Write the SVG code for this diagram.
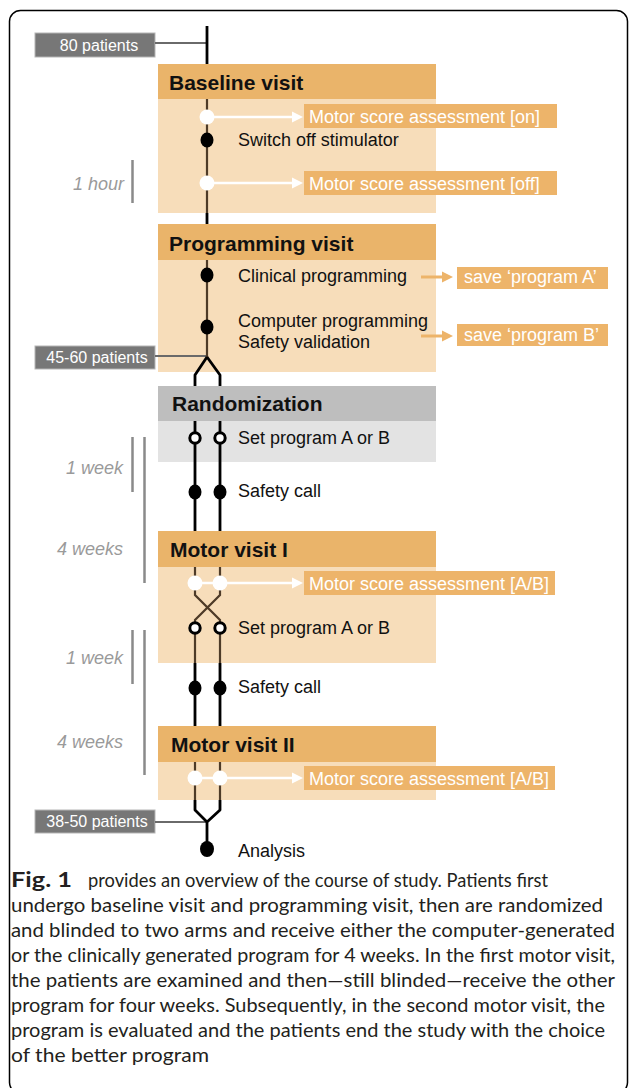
<svg xmlns="http://www.w3.org/2000/svg" width="630" height="1088" viewBox="0 0 630 1088">
<style>
.hdr{fill:#EAB46A}
.body{fill:#F7DDBA}
.rhdr{fill:#BEBEBE}
.rbody{fill:#E3E3E3}
.lbl{fill:#EDB46A}
.gbox{fill:#777777;stroke:#B5B5B5;stroke-width:1}
.htxt{font-family:"Liberation Sans",Arial,sans-serif;font-weight:bold;font-size:21px;fill:#111}
.txt{font-family:"Liberation Sans",Arial,sans-serif;font-size:18px;fill:#111}
.wtxt{font-family:"Liberation Sans",Arial,sans-serif;font-size:18px;fill:#fff}
.gtxt{font-family:"Liberation Sans",Arial,sans-serif;font-size:16px;fill:#fff;text-anchor:middle}
.time{font-family:"Liberation Sans",Arial,sans-serif;font-size:18px;font-style:italic;fill:#9a9a9a;text-anchor:end}
.bar{stroke:#8a8a8a;stroke-width:2.5;fill:none}
.blk{stroke:#000;stroke-width:2.8;fill:none}
.brn{stroke:#4e3b28;stroke-width:2.2;fill:none}
.gln{stroke:#6a6a6a;stroke-width:2;fill:none}
.warr{stroke:#fff;stroke-width:2.5;fill:none}
.oarr{stroke:#EDB46A;stroke-width:3;fill:none}
.wdot{fill:#fff}
.bdot{fill:#000}
.odot{fill:#fff;stroke:#000;stroke-width:3}
.cap{font-family:Lato,"Noto Sans","Liberation Sans",sans-serif;font-size:20px;fill:#231f20}
.capb{font-family:Lato,"Noto Sans","Liberation Sans",sans-serif;font-size:21px;font-weight:bold;fill:#231f20}
</style>
<defs>
<marker id="wh" markerUnits="userSpaceOnUse" markerWidth="12" markerHeight="12" viewBox="0 0 12 12" refX="0" refY="6" orient="auto"><path d="M0,0.5 L11,6 L0,11.5 z" fill="#fff"/></marker>
<marker id="oh" markerUnits="userSpaceOnUse" markerWidth="12" markerHeight="12" viewBox="0 0 12 12" refX="0" refY="6" orient="auto"><path d="M0,0.5 L11,6 L0,11.5 z" fill="#EDB46A"/></marker>
</defs>

<rect x="9.5" y="10.5" width="618" height="1083" rx="11" fill="#fff" stroke="#000" stroke-width="1.5"/>

<g id="node-baseline">
<rect class="body" x="158" y="99" width="278" height="114"/>
<rect class="hdr" x="158" y="64" width="278" height="35"/>
<text class="htxt" x="169" y="90">Baseline visit</text>
</g>
<g id="node-programming">
<rect class="body" x="158" y="260" width="278" height="112"/>
<rect class="hdr" x="158" y="224" width="278" height="36"/>
<text class="htxt" x="169" y="251">Programming visit</text>
</g>
<g id="node-randomization">
<rect class="rbody" x="158" y="421" width="278" height="41"/>
<rect class="rhdr" x="158" y="386" width="278" height="35"/>
<text class="htxt" x="172" y="411">Randomization</text>
</g>
<g id="node-motor1">
<rect class="body" x="158" y="567" width="278" height="96"/>
<rect class="hdr" x="158" y="531" width="278" height="36"/>
<text class="htxt" x="170" y="557">Motor visit I</text>
</g>
<g id="node-motor2">
<rect class="body" x="158" y="762" width="278" height="38"/>
<rect class="hdr" x="158" y="726" width="278" height="36"/>
<text class="htxt" x="171" y="752">Motor visit II</text>
</g>

<g id="node-80patients"><rect class="gbox" x="35" y="33" width="120" height="24"/><text class="gtxt" x="99" y="51">80 patients</text></g>
<g id="node-4560patients"><rect class="gbox" x="35" y="346" width="120" height="23"/><text class="gtxt" x="97" y="363">45-60 patients</text></g>
<g id="node-3850patients"><rect class="gbox" x="35" y="810" width="120" height="23"/><text class="gtxt" x="97" y="827">38-50 patients</text></g>

<g id="connectors">
<path class="gln" d="M155,43 H207"/>
<path class="gln" d="M155,356 H207"/>
<path class="gln" d="M155,822 H207"/>
<path class="blk" d="M207,26 V64"/>
<path class="brn" d="M207,99 V213"/>
<path class="blk" d="M207,213 V224"/>
<path class="brn" d="M207,260 V357"/>
<path class="blk" d="M207,357 L195,375 V386 M207,357 L220,375 V386" stroke-linejoin="round"/>
<path class="blk" d="M195,421 V531 M220,421 V531"/>
<path class="brn" d="M195,567 V595 L220,620 V663 M220,567 V595 L195,620 V663"/>
<path class="blk" d="M195,663 V726 M220,663 V726"/>
<path class="brn" d="M195,762 V800 M220,762 V800"/>
<path class="blk" d="M195,800 V810 L207,822 L220,810 V800 M207,822 V849" stroke-linejoin="round"/>
<path class="warr" d="M207,117 H292" marker-end="url(#wh)"/>
<path class="warr" d="M207,183 H292" marker-end="url(#wh)"/>
<path class="warr" d="M195,583 H292" marker-end="url(#wh)"/>
<path class="warr" d="M195,778 H292" marker-end="url(#wh)"/>
<path class="oarr" d="M421,277 H442" marker-end="url(#oh)"/>
<path class="oarr" d="M421,336 H442" marker-end="url(#oh)"/>
</g>

<g id="dots">
<circle class="wdot" cx="207" cy="117" r="7.5"/>
<ellipse class="bdot" cx="207" cy="140" rx="6.5" ry="7.5"/>
<circle class="wdot" cx="207" cy="183" r="7.5"/>
<ellipse class="bdot" cx="207" cy="275" rx="6.5" ry="7.5"/>
<ellipse class="bdot" cx="207" cy="327" rx="6.5" ry="7.5"/>
<circle class="odot" cx="195" cy="438" r="5.2"/>
<circle class="odot" cx="220" cy="438" r="5.2"/>
<ellipse class="bdot" cx="195" cy="492" rx="6.5" ry="7.5"/>
<ellipse class="bdot" cx="220" cy="492" rx="6.5" ry="7.5"/>
<circle class="wdot" cx="195" cy="583" r="7.5"/>
<circle class="wdot" cx="220" cy="583" r="7.5"/>
<circle class="odot" cx="195" cy="628" r="5.2"/>
<circle class="odot" cx="220" cy="628" r="5.2"/>
<ellipse class="bdot" cx="195" cy="688" rx="6.5" ry="7.5"/>
<ellipse class="bdot" cx="220" cy="688" rx="6.5" ry="7.5"/>
<circle class="wdot" cx="195" cy="778" r="7.5"/>
<circle class="wdot" cx="220" cy="778" r="7.5"/>
<ellipse class="bdot" cx="207" cy="849" rx="7" ry="8"/>
</g>

<g id="labels">
<g id="node-msa-on"><rect class="lbl" x="304" y="104" width="253" height="24"/><text class="wtxt" x="309" y="123">Motor score assessment [on]</text></g>
<g id="node-msa-off"><rect class="lbl" x="304" y="171" width="253" height="24"/><text class="wtxt" x="309" y="190">Motor score assessment [off]</text></g>
<g id="node-prog-a"><rect class="lbl" x="457" y="267" width="151" height="22"/><text class="wtxt" x="464" y="283">save ‘program A’</text></g>
<g id="node-prog-b"><rect class="lbl" x="457" y="324" width="151" height="22"/><text class="wtxt" x="464" y="341">save ‘program B’</text></g>
<g id="node-msa-ab1"><rect class="lbl" x="304" y="571" width="251" height="24"/><text class="wtxt" x="309" y="590">Motor score assessment [A/B]</text></g>
<g id="node-msa-ab2"><rect class="lbl" x="304" y="766" width="251" height="24"/><text class="wtxt" x="309" y="785">Motor score assessment [A/B]</text></g>
<text class="txt" x="238" y="146">Switch off stimulator</text>
<text class="txt" x="238" y="282">Clinical programming</text>
<text class="txt" x="238" y="327">Computer programming</text>
<text class="txt" x="238" y="348">Safety validation</text>
<text class="txt" x="238" y="444">Set program A or B</text>
<text class="txt" x="238" y="497">Safety call</text>
<text class="txt" x="238" y="634">Set program A or B</text>
<text class="txt" x="238" y="693">Safety call</text>
<text class="txt" x="238" y="857">Analysis</text>
</g>

<g id="timescale">
<path class="bar" d="M132.5,160 V203 M132.5,437 V492 M144.5,437 V583 M132.5,630 V684 M144.5,630 V775"/>
<text class="time" x="124" y="190">1 hour</text>
<text class="time" x="123" y="474">1 week</text>
<text class="time" x="123" y="555">4 weeks</text>
<text class="time" x="123" y="664">1 week</text>
<text class="time" x="123" y="748">4 weeks</text>
</g>

<g id="caption">
<text class="capb" x="11" y="887" textLength="61" lengthAdjust="spacingAndGlyphs">Fig. 1</text>
<text class="cap" x="88" y="887" textLength="460" lengthAdjust="spacingAndGlyphs">provides an overview of the course of study. Patients first</text>
<text class="cap" x="11" y="912" textLength="592" lengthAdjust="spacingAndGlyphs">undergo baseline visit and programming visit, then are randomized</text>
<text class="cap" x="11" y="937" textLength="604" lengthAdjust="spacingAndGlyphs">and blinded to two arms and receive either the computer-generated</text>
<text class="cap" x="11" y="962" textLength="604" lengthAdjust="spacingAndGlyphs">or the clinically generated program for 4 weeks. In the first motor visit,</text>
<text class="cap" x="11" y="987" textLength="604" lengthAdjust="spacingAndGlyphs">the patients are examined and then—still blinded—receive the other</text>
<text class="cap" x="11" y="1012" textLength="594" lengthAdjust="spacingAndGlyphs">program for four weeks. Subsequently, in the second motor visit, the</text>
<text class="cap" x="11" y="1037" textLength="594" lengthAdjust="spacingAndGlyphs">program is evaluated and the patients end the study with the choice</text>
<text class="cap" x="11" y="1062" textLength="198" lengthAdjust="spacingAndGlyphs">of the better program</text>
</g>
</svg>
